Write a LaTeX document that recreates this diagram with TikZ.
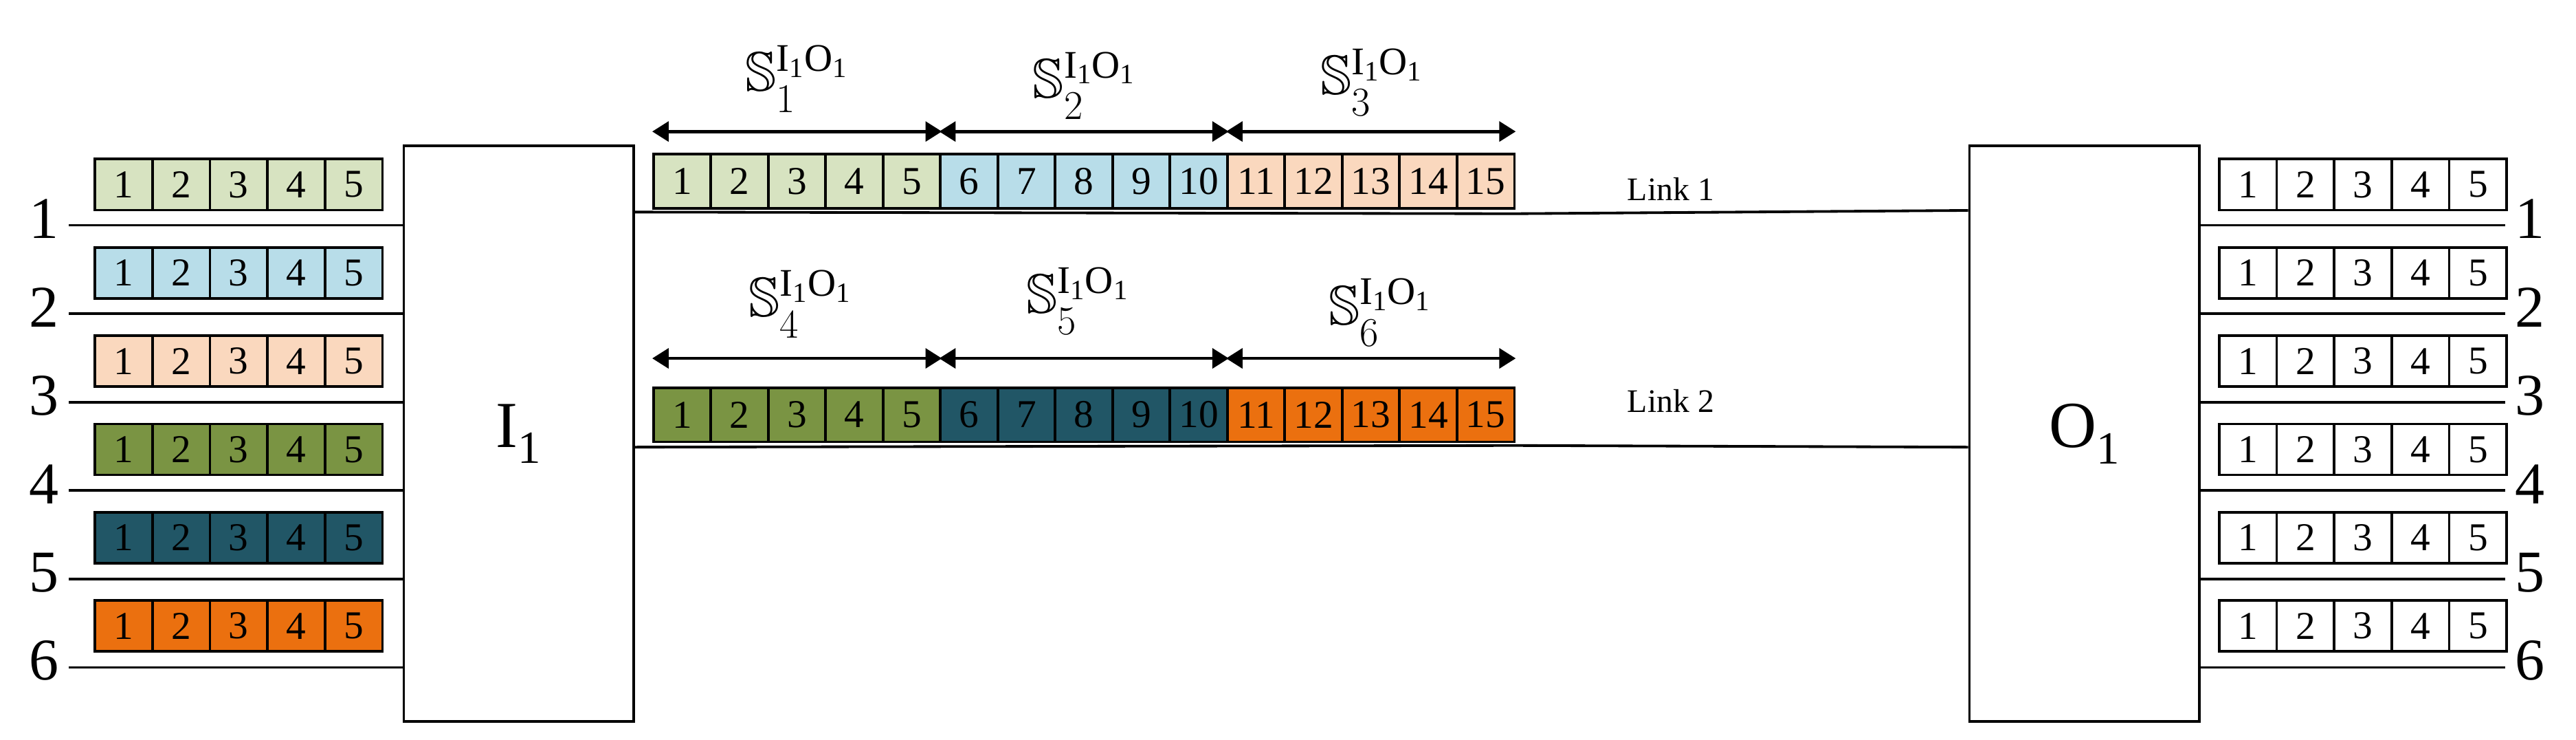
\documentclass[tikz,border=0pt]{standalone}
\usetikzlibrary{arrows.meta}
\usepackage{amssymb}
\usepackage{fontspec}
\setmainfont{Liberation Serif}
\definecolor{cA}{HTML}{D7E3C1}
\definecolor{cB}{HTML}{B8DDE9}
\definecolor{cC}{HTML}{FAD8BE}
\definecolor{cD}{HTML}{7A9443}
\definecolor{cE}{HTML}{215666}
\definecolor{cF}{HTML}{EB700F}
\begin{document}
\begin{tikzpicture}[x=1pt,y=-1pt,line width=1.6pt,
  cell/.style={draw,minimum width=35pt,minimum height=31pt,inner sep=0pt,font=\fontsize{24}{24}\selectfont,anchor=north west},
  lcell/.style={cell,minimum height=33pt},
  portlbl/.style={font=\fontsize{36}{36}\selectfont},
  box/.style={draw,anchor=north west,inner sep=0pt},
  slbl/.style={font=\fontsize{34}{34}\selectfont},
  dim/.style={{Triangle[width=12pt,length=10pt]}-{Triangle[width=12pt,length=10pt]},line width=2pt}]
\useasboundingbox (0,0) rectangle (1568,450);
% switches
\node[box,minimum width=140pt,minimum height=350pt] (I) at (245,88) {};
\node[font=\fontsize{40}{40}\selectfont] at (I.center) {I\textsubscript{1}};
\node[box,minimum width=140pt,minimum height=350pt] (O) at (1198,88) {};
\node[font=\fontsize{40}{40}\selectfont] at (O.center) {O\textsubscript{1}};
% input/output ports
\foreach \i/\c in {1/cA,2/cB,3/cC,4/cD,5/cE,6/cF}{
  \pgfmathsetmacro{\yl}{137+53.8*(\i-1)}
  \pgfmathsetmacro{\yq}{96+53.7*(\i-1)}
  \coordinate (inL\i) at (42,\yl);
  \coordinate (inR\i) at (245,\yl);
  \draw (inL\i) -- (inR\i);
  \node[portlbl,anchor=east] (il\i) at (40,\yl-4) {\i};
  \coordinate (outL\i) at (1338,\yl);
  \coordinate (outR\i) at (1525,\yl);
  \draw (outL\i) -- (outR\i);
  \node[portlbl,anchor=west] (ol\i) at (1527,\yl-4) {\i};
  \foreach \k in {1,...,5}{
    \node[cell,fill=\c] (q\i-\k) at (57+35*\k-35,\yq) {\k};
    \node[cell] (r\i-\k) at (1350+35*\k-35,\yq) {\k};
  }
}
% links
\coordinate (l1a) at (385,129);
\coordinate (l1b) at (1198,128);
\coordinate (l2a) at (385,272);
\coordinate (l2b) at (1198,272);
\draw (l1a) -- (921,130) -- (l1b);
\draw (l2a) -- (921,271) -- (l2b);
\node[font=\fontsize{20}{20}\selectfont] (lk1) at (1017,115) {Link 1};
\node[font=\fontsize{20}{20}\selectfont] (lk2) at (1017,244) {Link 2};
\foreach \k in {1,...,15}{
  \pgfmathtruncatemacro{\g}{int((\k-1)/5)}
  \ifcase\g \def\ca{cA}\def\cb{cD}\or \def\ca{cB}\def\cb{cE}\or \def\ca{cC}\def\cb{cF}\fi
  \node[lcell,fill=\ca] (a\k) at (397+34.93*\k-34.93,93) {\k};
  \node[lcell,fill=\cb] (b\k) at (397+34.93*\k-34.93,235) {\k};
}
% dimension arrows
\foreach \j/\s/\e in {1/1/5,2/6/10,3/11/15}{
  \coordinate (ts\j) at ([yshift=13pt]a\s.north west);
  \coordinate (te\j) at ([yshift=13pt]a\e.north east);
  \draw[dim] (ts\j) -- (te\j);
  \coordinate (bs\j) at ([yshift=17pt]b\s.north west);
  \coordinate (be\j) at ([yshift=17pt]b\e.north east);
  \draw[dim] (bs\j) -- (be\j);
}
\node[slbl] (s1) at (485,48) {$\mathbb{S}_1^{\mathrm{I_1O_1}}$};
\node[slbl] (s2) at (660,52) {$\mathbb{S}_2^{\mathrm{I_1O_1}}$};
\node[slbl] (s3) at (835,50) {$\mathbb{S}_3^{\mathrm{I_1O_1}}$};
\node[slbl] (s4) at (487,185) {$\mathbb{S}_4^{\mathrm{I_1O_1}}$};
\node[slbl] (s5) at (656,183) {$\mathbb{S}_5^{\mathrm{I_1O_1}}$};
\node[slbl] (s6) at (840,190) {$\mathbb{S}_6^{\mathrm{I_1O_1}}$};
\end{tikzpicture}
\end{document}
